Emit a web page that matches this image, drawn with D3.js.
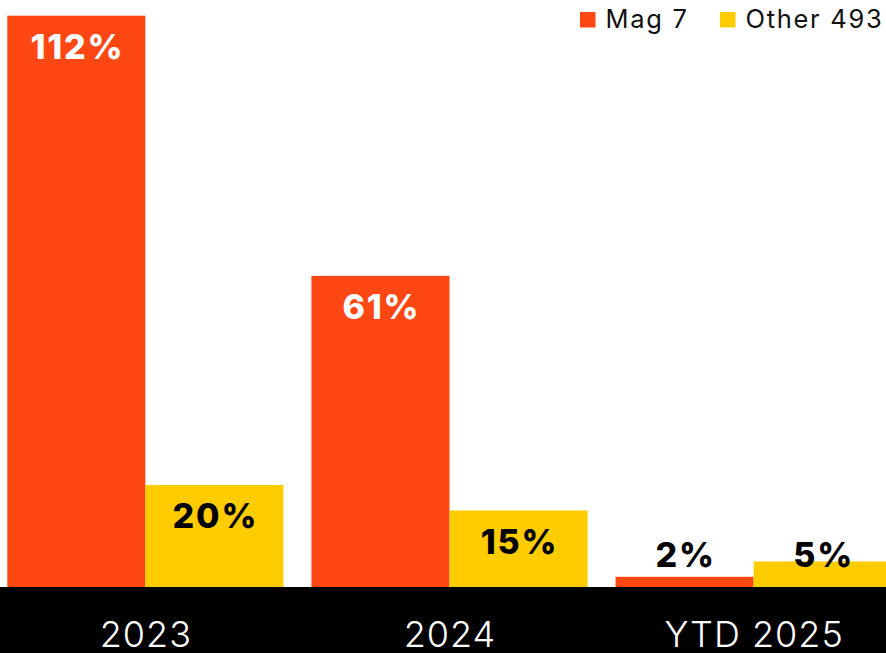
<!DOCTYPE html>
<html>
<head>
<meta charset="utf-8">
<script src="https://cdn.jsdelivr.net/npm/d3@7"></script>
<style>
  body { margin: 0; background: #fff; }
  svg { display: block; font-family: Inter, "Open Sans", sans-serif; }
</style>
</head>
<body>
<div id="chart"></div>
<script>
// chart data
const years = ['2023', '2024', 'YTD 2025']
const seriesNames = ['Mag 7', 'Other 493']
const mag7 = [112, 61, 2]
const other493 = [20, 15, 5]

const colors = ['#FF4713', '#FFCC00']
const labelColors = ['#fff', '#000']

// svg dimensions
const svgWidth = 886, svgHeight = 653
const baseline = 587

const svg = d3.select('div#chart').append('svg')
  .attr('width', svgWidth)
  .attr('height', svgHeight)

// scales
const xScale = d3.scaleBand()
  .domain(years)
  .range([0, 899])
  .paddingInner(0.092)
  .paddingOuter(0.024)

const xInner = d3.scaleBand()
  .domain(seriesNames)
  .range([0, xScale.bandwidth()])

const yScale = d3.scaleLinear()
  .domain([0, 112])
  .range([baseline, 15.7])

const data = years.map((y, i) => ({
  year: y,
  values: [mag7[i], other493[i]].map((v, j) => ({ year: y, series: seriesNames[j], idx: j, value: v }))
}))

// black axis band
svg.append('rect')
  .attr('x', 0)
  .attr('y', baseline)
  .attr('width', svgWidth)
  .attr('height', svgHeight - baseline)
  .style('fill', '#000')

const groups = svg.append('g').selectAll('g')
  .data(data).enter()
  .append('g')
    .attr('transform', (d) => 'translate(' + xScale(d.year) + ',0)')

// bars
groups.selectAll('rect')
  .data((d) => d.values).enter()
  .append('rect')
    .attr('x', (d) => xInner(d.series))
    .attr('y', (d) => yScale(d.value))
    .attr('width', xInner.bandwidth())
    .attr('height', (d) => baseline - yScale(d.value))
    .style('fill', (d) => colors[d.idx])

// value labels - inside the bar, or above it if the bar is too short
groups.selectAll('text.value')
  .data((d) => d.values).enter()
  .append('text')
    .attr('class', 'value')
    .text((d) => d.value + '%')
    .attr('x', (d) => xInner(d.series) + xInner.bandwidth() / 2 + 1)
    .attr('y', (d) => Math.min(yScale(d.value) + 43.5, baseline - 20))
    .attr('text-anchor', 'middle')
    .style('font-size', '34px')
    .style('font-weight', 800)
    .style('letter-spacing', '1.8px')
    .style('fill', (d) => (baseline - yScale(d.value) > 60 ? labelColors[d.idx] : '#000'))

// x axis labels
const xAxis = svg.append('g')
  .attr('transform', 'translate(0,' + baseline + ')')
  .call(d3.axisBottom(xScale).tickSize(0).tickPadding(0))

xAxis.select('.domain').remove()
xAxis.selectAll('text')
  .attr('dy', 0)
  .attr('y', 59.5)
  .attr('dx', 0.5)
  .style('font-family', 'Inter, "Open Sans", sans-serif')
  .style('font-size', '36px')
  .style('font-weight', 300)
  .style('letter-spacing', '1px')
  .style('fill', '#fff')

// legend
const legendX = [580, 720]
const legend = svg.append('g').selectAll('g')
  .data(seriesNames).enter()
  .append('g')
    .attr('transform', (d, i) => 'translate(' + legendX[i] + ',12)')

legend.append('rect')
  .attr('width', 15.5)
  .attr('height', 15.5)
  .style('fill', (d, i) => colors[i])

legend.append('text')
  .text((d) => d)
  .attr('x', 25.5)
  .attr('y', 15.5)
  .style('font-size', '25.5px')
  .style('letter-spacing', '1.7px')
  .style('fill', '#111')
</script>
</body>
</html>
